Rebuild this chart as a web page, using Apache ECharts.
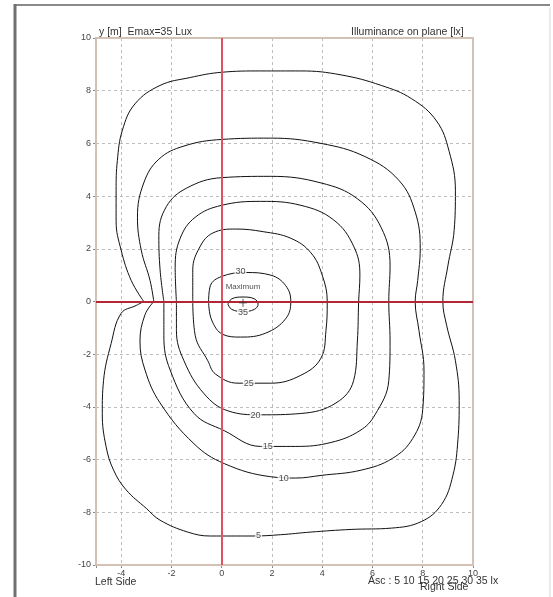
<!DOCTYPE html>
<html>
<head>
<meta charset="utf-8">
<script src="https://cdn.jsdelivr.net/npm/echarts@6/dist/echarts.min.js"></script>
<style>html,body{margin:0;padding:0;background:#fff;}#c{width:553px;height:597px;}</style>
</head>
<body>
<div id="c"></div>
<script>
// ---- data (metres, lux) ----
const levels = [5, 10, 15, 20, 25, 30, 35];
const iso5 = [[-3.1,0],[-3.6,0.8],[-4.0,1.95],[-4.2,3.05],[-4.2,4.2],[-4.15,5.35],[-3.95,6.5],[-3.45,7.5],[-2.45,8.2],[-1.25,8.5],[0,8.7],[1.55,8.75],[3.15,8.75],[4.75,8.6],[6.35,8.2],[7.55,7.7],[8.55,6.85],[9.05,5.7],[9.3,4.2],[9.25,2.7],[9.0,1.35],[8.8,0],[8.95,-0.9],[9.3,-2.25],[9.45,-3.75],[9.4,-5.25],[9.2,-6.6],[8.75,-7.7],[7.95,-8.35],[6.75,-8.6],[5.15,-8.65],[3.55,-8.75],[2.35,-8.85],[1.25,-8.9],[-0.45,-8.9],[-1.35,-8.75],[-2.45,-8.3],[-3.0,-7.85],[-3.8,-7.15],[-4.3,-6.4],[-4.6,-5.5],[-4.75,-4.25],[-4.7,-3.0],[-4.4,-1.6],[-4.0,-0.45],[-3.4,-0.15],[-3.1,0]];
const iso10 = [[-2.7,0],[-2.85,0.8],[-3.2,1.95],[-3.35,3.2],[-3.1,4.5],[-2.5,5.4],[-1.5,5.9],[0,6.15],[1.95,6.2],[3.95,6.0],[5.7,5.5],[7.05,4.6],[7.7,3.4],[7.9,2.0],[7.8,0.8],[7.7,0],[7.85,-1.1],[8.05,-2.6],[8.0,-4.1],[7.6,-5.2],[6.8,-5.95],[5.55,-6.4],[3.95,-6.6],[2.95,-6.7],[1.95,-6.65],[0.1,-6.15],[-1.1,-5.4],[-2.45,-3.85],[-3.05,-2.6],[-3.25,-1.5],[-3.05,-0.5],[-2.7,0]];
const iso15 = [[-2.3,0],[-2.45,1.2],[-2.5,2.5],[-2.2,3.6],[-1.4,4.3],[0,4.7],[1.95,4.75],[3.95,4.5],[5.4,3.9],[6.35,2.8],[6.7,1.35],[6.65,0],[6.7,-1.5],[6.65,-3.0],[6.1,-4.3],[5.5,-4.9],[4.35,-5.35],[2.95,-5.5],[1.55,-5.5],[0.1,-4.9],[-1.1,-4.25],[-2.05,-2.6],[-2.3,-1.3],[-2.3,0]];
const iso20 = [[-1.8,0],[-1.85,1.3],[-1.65,2.4],[-1.05,3.2],[0,3.65],[1.55,3.8],[3.15,3.65],[4.45,3.1],[5.25,2.1],[5.5,1.0],[5.45,0],[5.4,-1.5],[5.25,-3.0],[4.55,-3.85],[3.15,-4.25],[1.55,-4.3],[0.25,-4.15],[-0.7,-3.5],[-1.5,-2.25],[-1.8,-1.1],[-1.8,0]];
const iso25 = [[-1.15,0],[-1.15,1.2],[-0.85,2.1],[-0.35,2.6],[0.55,2.75],[1.65,2.65],[2.75,2.4],[3.55,1.85],[4.0,1.0],[4.2,0],[4.15,-1.1],[3.95,-2.15],[3.15,-2.8],[1.95,-3.1],[0.65,-3.1],[-0.25,-2.75],[-0.55,-2.25],[-1.05,-1.3],[-1.15,0]];
const iso30 = [[-0.52,0],[-0.45,0.6],[0,0.95],[0.95,1.1],[1.95,1.0],[2.55,0.6],[2.75,0],[2.55,-0.65],[1.75,-1.2],[0.75,-1.35],[0.05,-1.25],[-0.4,-0.7],[-0.52,0]];
const iso35 = [[0.25,-0.1],[0.4,0.1],[0.85,0.17],[1.3,0.1],[1.45,-0.1],[1.3,-0.3],[0.85,-0.38],[0.4,-0.3],[0.25,-0.1]];
const isoLines = [iso5, iso10, iso15, iso20, iso25, iso30, iso35];
// contour label anchor points [x, y, text]
const isoLabels = [[1.47,-8.87,'5'],[2.47,-6.7,'10'],[1.83,-5.5,'15'],[1.35,-4.32,'20'],[1.08,-3.1,'25'],[0.75,1.14,'30'],[0.85,-0.42,'35']];
const maxPoint = [0.85, -0.05];

const chart = echarts.init(document.getElementById('c'));
const FONT = 'Liberation Sans';
const series = isoLines.map((pts, i) => ({
  type: 'line', data: pts, smooth: 0.4, symbol: 'none', silent: true,
  lineStyle: {color: '#111', width: 1}, z: 3
}));
series.push({
  type: 'scatter', data: isoLabels, symbolSize: 0, z: 5, silent: true,
  label: {show: true, position: 'inside', formatter: p => p.value[2], fontFamily: FONT, fontSize: 9, color: '#222', backgroundColor: '#fff', padding: [0, 1]}
});
series.push({
  type: 'scatter', data: [maxPoint], symbol: 'path://M-1,0L1,0M0,-1L0,1', symbolSize: 8, z: 6, silent: true,
  itemStyle: {color: 'none', borderColor: '#333', borderWidth: 1},
  label: {show: true, position: 'top', distance: 6, formatter: 'Maximum', fontFamily: FONT, fontSize: 8, color: '#222'}
});
series.push({
  type: 'line', data: [], silent: true,
  markLine: {symbol: 'none', silent: true, label: {show: false}, animation: false,
    data: [
      [{coord: [0, -10], lineStyle: {color: '#e0525f', width: 2, type: 'solid'}}, {coord: [0, 10]}],
      [{coord: [-5, 0], lineStyle: {color: '#b32636', width: 2, type: 'solid'}}, {coord: [10, 0]}]
    ]}, z: 2
});

chart.setOption({
  animation: false,
  backgroundColor: '#fff',
  grid: {left: 96, top: 38, width: 377, height: 527, show: false},
  xAxis: {type: 'value', min: -5, max: 10, splitNumber: 7,
    axisLine: {show: true, onZero: false, lineStyle: {color: '#d4c1b6', width: 2}},
    axisTick: {show: true, length: 3, lineStyle: {color: '#888'}},
    axisLabel: {fontFamily: FONT, fontSize: 9, color: '#444', margin: 4, formatter: v => v === -5 ? '' : String(v)},
    splitLine: {show: true, lineStyle: {color: '#bdbdbd', type: [3, 3], width: 1}}},
  yAxis: {type: 'value', min: -10, max: 10, interval: 2,
    axisLine: {show: true, onZero: false, lineStyle: {color: '#d4c1b6', width: 2}},
    axisTick: {show: true, length: 3, lineStyle: {color: '#888'}},
    axisLabel: {fontFamily: FONT, fontSize: 9, color: '#444', margin: 5},
    splitLine: {show: true, lineStyle: {color: '#bdbdbd', type: [3, 3], width: 1}}},
  graphic: [
    {type: 'rect', shape: {x: 96, y: 38, width: 377, height: 527}, style: {fill: 'none', stroke: '#d4c1b6', lineWidth: 2}, z: 1, silent: true},
    {type: 'line', shape: {x1: 14, y1: 5, x2: 550, y2: 5}, style: {stroke: '#8a8a8a', lineWidth: 2}},
    {type: 'line', shape: {x1: 15, y1: 4, x2: 15, y2: 597}, style: {stroke: '#707070', lineWidth: 3}},
    {type: 'line', shape: {x1: 550, y1: 8, x2: 550, y2: 597}, style: {stroke: '#d6d6d6', lineWidth: 1}},
    {type: 'text', left: 99, top: 27, style: {text: 'y [m]  Emax=35 Lux', font: '10.5px "Liberation Sans"', fill: '#333'}},
    {type: 'text', left: 351, top: 27, style: {text: 'Illuminance on plane [lx]', font: '10.5px "Liberation Sans"', fill: '#333'}},
    {type: 'text', left: 95, top: 577, style: {text: 'Left Side', font: '10.5px "Liberation Sans"', fill: '#333'}},
    {type: 'text', left: 368, top: 576, style: {text: 'Asc : 5 10 15 20 25 30 35 lx', font: '10.5px "Liberation Sans"', fill: '#333'}},
    {type: 'text', left: 420, top: 582, style: {text: 'Right Side', font: '10.5px "Liberation Sans"', fill: '#333'}}
  ],
  series: series
});
</script>
</body>
</html>
